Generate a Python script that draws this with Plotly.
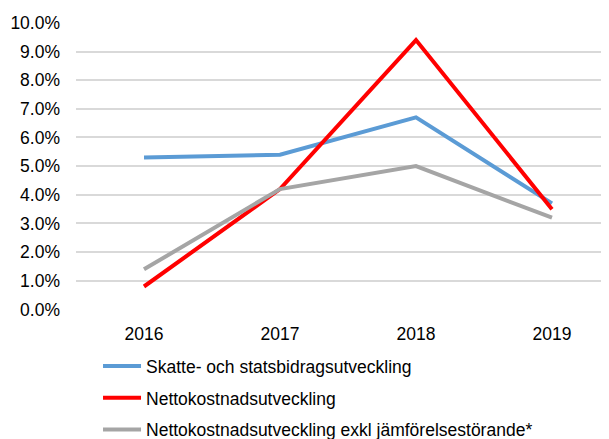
import plotly.graph_objects as go

years = ["2016", "2017", "2018", "2019"]
skatte = [5.3, 5.4, 6.7, 3.7]
netto = [0.8, 4.2, 9.4, 3.5]
netto_exkl = [1.4, 4.2, 5.0, 3.2]
names = [
    "Skatte- och statsbidragsutveckling",
    "Nettokostnadsutveckling",
    "Nettokostnadsutveckling exkl jämförelsestörande*",
]
colors = ["#5B9BD5", "#FF0000", "#A5A5A5"]
y_ticks = [0, 1, 2, 3, 4, 5, 6, 7, 8, 9, 10]
y_labels = [f"{v:.1f}%" for v in y_ticks]

fig = go.Figure()
for i, (vals, name, col) in enumerate(zip([skatte, netto, netto_exkl], names, colors)):
    fig.add_trace(go.Scatter(
        x=years, y=vals, mode="lines", name=name,
        line=dict(color=col, width=4), legendgroup=f"g{i}",
    ))

FS = 17.5
fig.update_layout(
    width=609, height=439,
    margin=dict(l=68, r=0, t=14, b=137),
    paper_bgcolor="white", plot_bgcolor="white",
    font=dict(family="Liberation Sans, Arial, sans-serif", size=FS, color="#000000"),
    showlegend=True,
    legend=dict(
        orientation="v", x=0.0407, xanchor="left", y=0.2254, yanchor="top",
        xref="paper", yref="container",
        tracegroupgap=6, itemwidth=38,
        font=dict(size=FS, color="#000000"),
        bgcolor="rgba(0,0,0,0)",
    ),
    xaxis=dict(
        type="category", range=[-0.5, 3.478], showgrid=False, showline=False,
        ticks="", tickfont=dict(size=FS), zeroline=False, ticklabelstandoff=11,
    ),
    yaxis=dict(
        range=[-0.02, 10.03], tickvals=y_ticks, ticktext=y_labels,
        showgrid=True, gridcolor="#D9D9D9", gridwidth=1.5, zeroline=False,
        showline=False, ticks="", tickfont=dict(size=FS), ticklabelstandoff=15,
    ),
)

fig.write_html("out.html")
